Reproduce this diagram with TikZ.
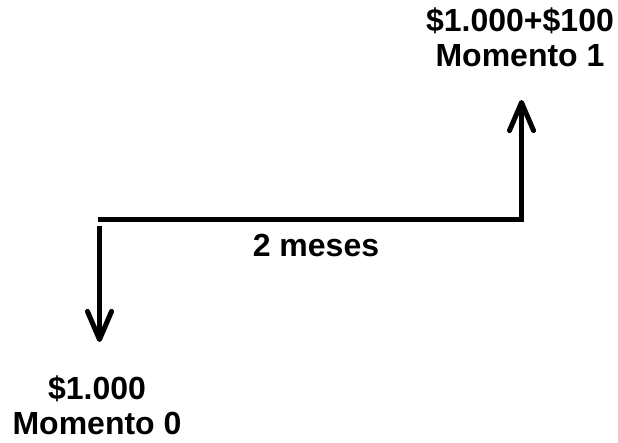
\documentclass[tikz,border=0pt]{standalone}
\usepackage{fontspec}
\setmainfont{Liberation Sans}
\usetikzlibrary{arrows.meta}
\tikzset{
  lbl/.style={font=\bfseries\fontsize{32}{35}\selectfont, align=center, inner sep=0pt},
  axis/.style={line width=5pt},
  cash/.style={line width=5pt, -{Straight Barb[length=28pt,width=24pt,round]}}
}
\begin{document}
\begin{tikzpicture}[x=1pt,y=-1pt]
\useasboundingbox (0,0) rectangle (618,443);
\coordinate (h0) at (98,220);
\coordinate (h1) at (521.5,220);
\coordinate (d0) at (99.5,226);
\coordinate (d1) at (99.5,342);
\coordinate (u0) at (521.5,222);
\coordinate (u1) at (521.5,100);
\draw[axis] (h0) -- (h1);
\draw[cash] (d0) -- (d1);
\draw[cash] (u0) -- (u1);
\node[lbl] (top) at (520,37) {\$1.000+\$100\\Momento 1};
\node[lbl] (bot) at (97,405) {\$1.000\\Momento 0};
\node[lbl] (mid) at (316,245) {2 meses};
\end{tikzpicture}
\end{document}
